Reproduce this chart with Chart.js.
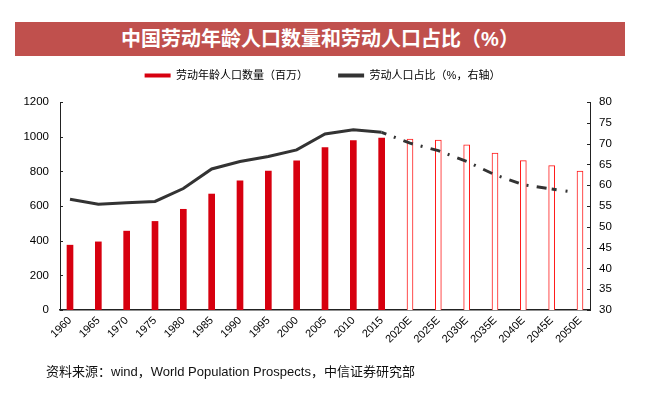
<!DOCTYPE html>
<html>
<head>
<meta charset="utf-8">
<script src="https://cdn.jsdelivr.net/npm/chart.js@4/dist/chart.umd.min.js"></script>
<style>
  body { margin: 0; background: #fff; }
  #wrap { position: relative; width: 645px; height: 412px; }
  #chart { position: absolute; left: 0; top: 0; }
  .banner {
    position: absolute; left: 15px; top: 22px; width: 610px; height: 34px;
    background: #c0504d; color: #fff; text-align: center;
    font: bold 20px "Liberation Sans", "Noto Sans CJK SC", sans-serif; line-height: 34px;
  }
  .source {
    position: absolute; left: 46px; top: 361px;
    font: 13px "Liberation Sans", "Noto Sans CJK SC", sans-serif; color: #111;
  }
</style>
</head>
<body>
<div id="wrap">
  <canvas id="chart" width="645" height="412"></canvas>
  <div class="banner">中国劳动年龄人口数量和劳动人口占比（%）</div>
  <div class="source">资料来源：wind，World Population Prospects，中信证券研究部</div>
</div>
<script>
const years = ['1960', '1965', '1970', '1975', '1980', '1985', '1990', '1995', '2000', '2005',
  '2010', '2015', '2020E', '2025E', '2030E', '2035E', '2040E', '2045E', '2050E'];
// 劳动年龄人口数量（百万）
const laborPop = [374, 393, 455, 511, 581, 669, 745, 802, 860, 937, 978, 992, 986, 980, 953, 905, 862, 833, 802];
// 劳动人口占比（%）
const laborShare = [56.6, 55.4, 55.8, 56.1, 59.2, 63.9, 65.7, 66.9, 68.5, 72.3, 73.3, 72.7,
  70.1, 68.3, 65.7, 62.5, 60.1, 59.1, 58.1];
const leftTicks = [0, 200, 400, 600, 800, 1000, 1200];
const rightTicks = [30, 35, 40, 45, 50, 55, 60, 65, 70, 75, 80];
const histCount = 12; // 1960-2015 are actuals, the rest are forecasts

const RED = '#d7000f';
const LINE = '#333333';

Chart.defaults.font.family = '"Liberation Sans", "Noto Sans CJK SC", sans-serif';
Chart.defaults.color = '#000';

// small inward tick marks on both value axes
const innerTicks = {
  id: 'innerTicks',
  afterDraw(chart) {
    const ctx = chart.ctx;
    ctx.save();
    ctx.strokeStyle = '#222';
    ctx.lineWidth = 1;
    [['y', 1], ['y1', -1]].forEach(([id, dir]) => {
      const s = chart.scales[id];
      const x = dir > 0 ? chart.chartArea.left : chart.chartArea.right;
      s.ticks.forEach((t, i) => {
        const y = Math.round(s.getPixelForTick(i)) + 0.5;
        ctx.beginPath();
        ctx.moveTo(x, y);
        ctx.lineTo(x + 3 * dir, y);
        ctx.stroke();
      });
    });
    ctx.restore();
  }
};

// extra room between legend and plot
const legendGap = {
  id: 'legendGap',
  beforeInit(chart) {
    const fit = chart.legend.fit;
    chart.legend.fit = function () {
      fit.call(this);
      this.height += 11;
    };
  }
};

const ctx = document.getElementById('chart').getContext('2d');
new Chart(ctx, {
  data: {
    labels: years,
    datasets: [
      {
        type: 'line',
        label: '劳动人口占比（%，右轴）',
        data: laborShare,
        yAxisID: 'y1',
        order: 0,
        borderColor: LINE,
        borderWidth: 3,
        pointRadius: 0,
        tension: 0,
        borderCapStyle: 'butt',
        segment: {
          borderDash: c => {
            if (c.p0DataIndex === years.length - 2) return [5, 9, 2, 1000];
            if (c.p0DataIndex >= histCount - 1) return [10, 8, 2, 8.3];
            return undefined;
          },
          borderDashOffset: c => (c.p0DataIndex >= histCount - 1 && c.p0DataIndex < years.length - 2) ? 5 : undefined
        }
      },
      {
        type: 'bar',
        label: '劳动年龄人口数量（百万）',
        data: laborPop,
        yAxisID: 'y',
        order: 1,
        barThickness: 6,
        backgroundColor: c => c.dataIndex < histCount ? RED : '#ffffff',
        borderColor: c => c.dataIndex < histCount ? RED : '#ff1a1a',
        borderWidth: c => c.dataIndex < histCount ? 0 : 1
      }
    ]
  },
  options: {
    responsive: false,
    animation: false,
    layout: { padding: { top: 40, left: 0, right: 0, bottom: 0 } },
    plugins: {
      tooltip: { enabled: false },
      legend: {
        position: 'top',
        labels: {
          boxWidth: 26,
          boxHeight: 4,
          padding: 30,
          font: { size: 11 },
          color: '#111',
          generateLabels: () => [
            { text: '劳动年龄人口数量（百万）', fillStyle: RED, strokeStyle: RED, lineWidth: 0, datasetIndex: 1 },
            { text: '劳动人口占比（%，右轴）', fillStyle: LINE, strokeStyle: LINE, lineWidth: 0, datasetIndex: 0 }
          ]
        }
      }
    },
    scales: {
      x: {
        offset: true,
        afterBuildTicks: s => {
          // keep ~10px between the outer bars and the value axes
          s._startValue = -0.353;
          s._valueRange = years.length - 1 + 0.706;
        },
        afterFit: s => { s.height = 102; },
        grid: { display: false, drawTicks: false },
        border: { display: true, color: '#222', width: 1.5 },
        ticks: {
          autoSkip: false,
          minRotation: 45,
          maxRotation: 45,
          padding: 4,
          font: { size: 11 }
        }
      },
      y: {
        position: 'left',
        min: 0,
        max: 1200,
        afterFit: s => { s.width = 60; },
        afterBuildTicks: s => { s.ticks = leftTicks.map(v => ({ value: v })); },
        grid: { display: false, drawTicks: false },
        border: { display: true, color: '#222', width: 1 },
        ticks: { padding: 11, font: { size: 11.5 }, callback: v => String(v) }
      },
      y1: {
        position: 'right',
        min: 30,
        max: 80,
        afterFit: s => { s.width = 55; },
        afterBuildTicks: s => { s.ticks = rightTicks.map(v => ({ value: v })); },
        grid: { display: false, drawTicks: false },
        border: { display: true, color: '#222', width: 1 },
        ticks: { padding: 9, font: { size: 11.5 }, callback: v => String(v) }
      }
    }
  },
  plugins: [innerTicks, legendGap]
});
</script>
</body>
</html>
